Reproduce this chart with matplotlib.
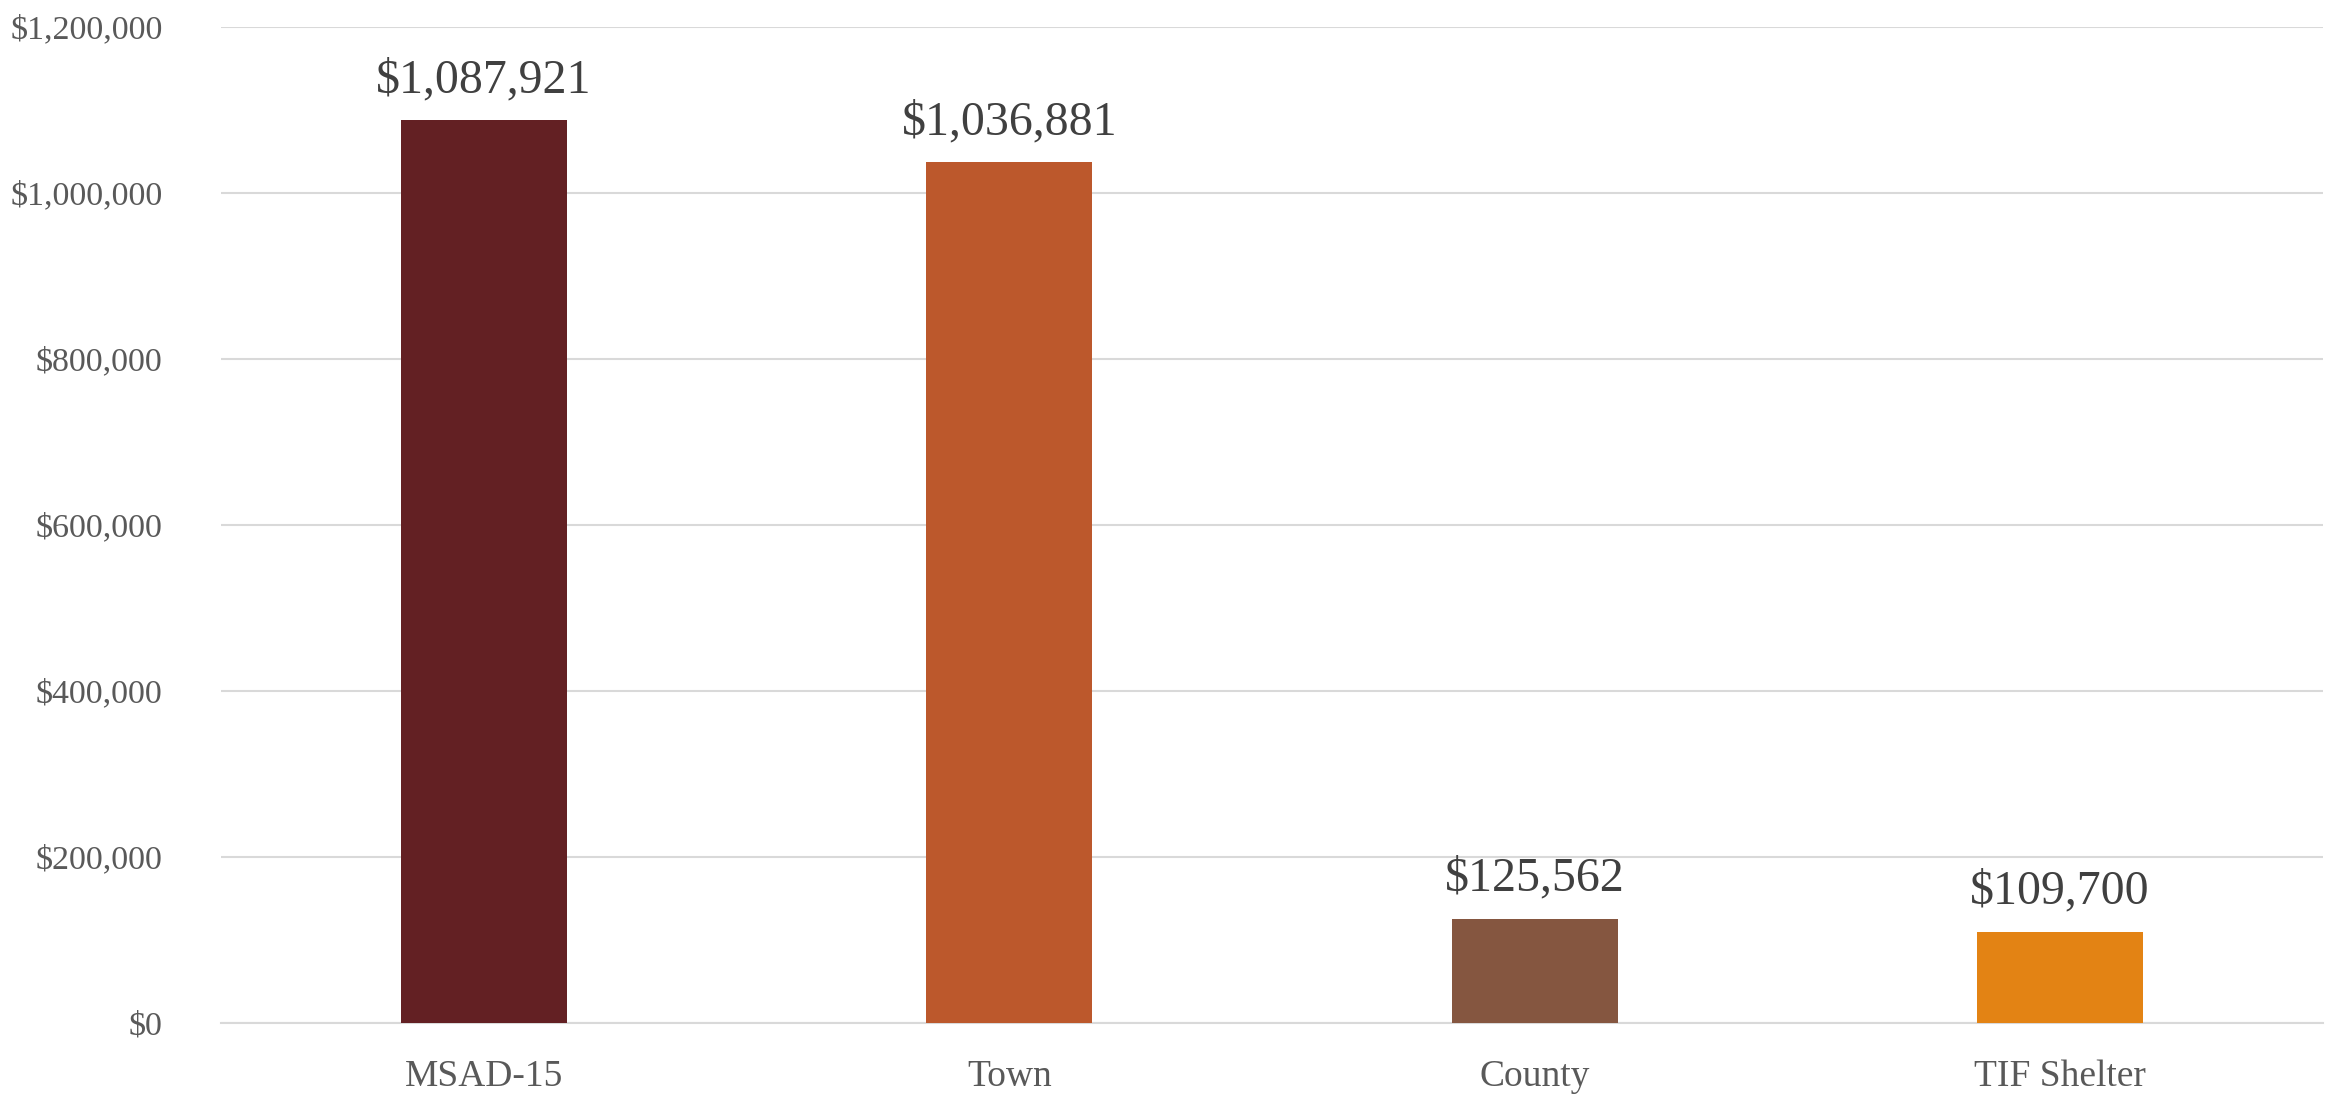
import matplotlib
matplotlib.use("Agg")
import matplotlib.pyplot as plt
from matplotlib.ticker import FuncFormatter

categories = ["MSAD-15", "Town", "County", "TIF Shelter"]
values = [1087921, 1036881, 125562, 109700]
colors = ["#632023", "#BC582C", "#855640", "#E38314"]
yticks = [0, 200000, 400000, 600000, 800000, 1000000, 1200000]

plt.rcParams['font.family'] = ['Liberation Serif', 'DejaVu Serif']

fig = plt.figure(figsize=(23.46, 10.97), dpi=100)
ax = fig.add_axes([221/2346, 1 - 1023/1097, (2323-221)/2346, (1023-27)/1097])

x = range(len(categories))
bars = ax.bar(x, values, width=0.316, color=colors, zorder=3)

ax.set_xlim(-0.5, len(categories) - 0.5)
ax.set_ylim(0, 1200000)
ax.set_yticks(yticks)
ax.yaxis.set_major_formatter(FuncFormatter(lambda v, p: f"${v:,.0f}"))
ax.set_xticks(list(x))
ax.set_xticklabels(categories)

ax.grid(axis='y', color='#D9D9D9', linewidth=1.5, zorder=0)
for s in ['top', 'right', 'left']:
    ax.spines[s].set_visible(False)
ax.spines['bottom'].set_color('#D9D9D9')
ax.spines['bottom'].set_linewidth(1.5)
ax.tick_params(axis='both', length=0, labelcolor='#595959')
ax.tick_params(axis='y', pad=42, labelsize=24.5)
ax.tick_params(axis='x', pad=26, labelsize=27)

for b, v in zip(bars, values):
    ax.annotate(f"${v:,.0f}", (b.get_x() + b.get_width() / 2, v),
                xytext=(0, 13), textcoords='offset points',
                ha='center', va='bottom', fontsize=34.5, color='#404040')

fig.savefig("out.png", dpi=100)
